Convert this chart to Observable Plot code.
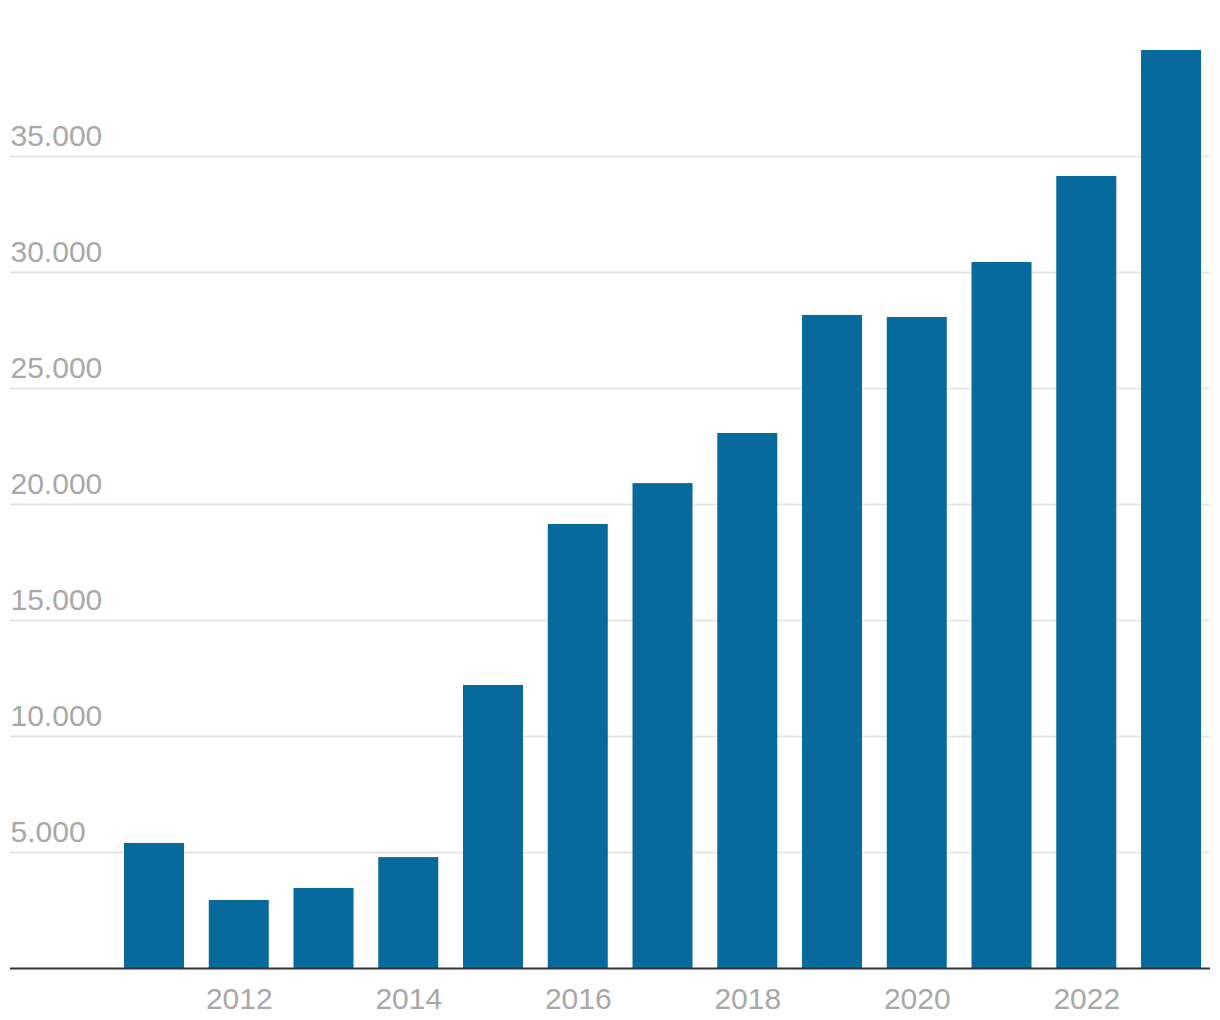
<!DOCTYPE html>
<html>
<head>
<meta charset="utf-8">
<script src="https://cdn.jsdelivr.net/npm/d3@7"></script>
<script src="https://cdn.jsdelivr.net/npm/@observablehq/plot@0.6"></script>
<style>
  html, body { margin: 0; padding: 0; background: #fff; }
  #chart svg { display: block; }
</style>
</head>
<body>
<div id="chart"></div>
<script>
const years = [2011, 2012, 2013, 2014, 2015, 2016, 2017, 2018, 2019, 2020, 2021, 2022, 2023];
const values = [5390, 2930, 3450, 4780, 12200, 19140, 20900, 23060, 28150, 28060, 30430, 34140, 39570];
const yTicks = [5000, 10000, 15000, 20000, 25000, 30000, 35000];
const xTicks = [2012, 2014, 2016, 2018, 2020, 2022];

const data = years.map((year, i) => ({year, value: values[i]}));
const de = d3.formatLocale({decimal: ",", thousands: ".", grouping: [3], currency: ["", " €"]});
const fmt = de.format(",d");

const chart = Plot.plot({
  width: 1220,
  height: 1020,
  marginTop: 40,
  marginBottom: 52,
  marginLeft: 10,
  marginRight: 10,
  style: {fontFamily: "'Liberation Sans', Arial, sans-serif", fontSize: "30px", background: "#fff"},
  x: {type: "band", domain: years, paddingInner: 0.292, paddingOuter: 0.7256, align: 0.927, round: false, label: null, axis: null},
  y: {domain: [0, 40000], label: null, axis: null},
  marks: [
    Plot.ruleY(yTicks, {stroke: "#e6e6e6", strokeWidth: 2}),
    Plot.text(yTicks, {y: d => d, frameAnchor: "left", textAnchor: "start", lineAnchor: "middle", dy: -20, text: d => fmt(d), fill: "#a8a8a8", fontSize: 30}),
    Plot.barY(data, {x: "year", y: "value", fill: "#066a9c"}),
    Plot.ruleY([0], {stroke: "#333", strokeWidth: 2}),
    Plot.axisX({ticks: xTicks, tickSize: 0, tickPadding: 19, tickFormat: d => String(d), fill: "#a8a8a8", fontSize: 30, label: null})
  ]
});
document.getElementById("chart").appendChild(chart);
</script>
</body>
</html>
